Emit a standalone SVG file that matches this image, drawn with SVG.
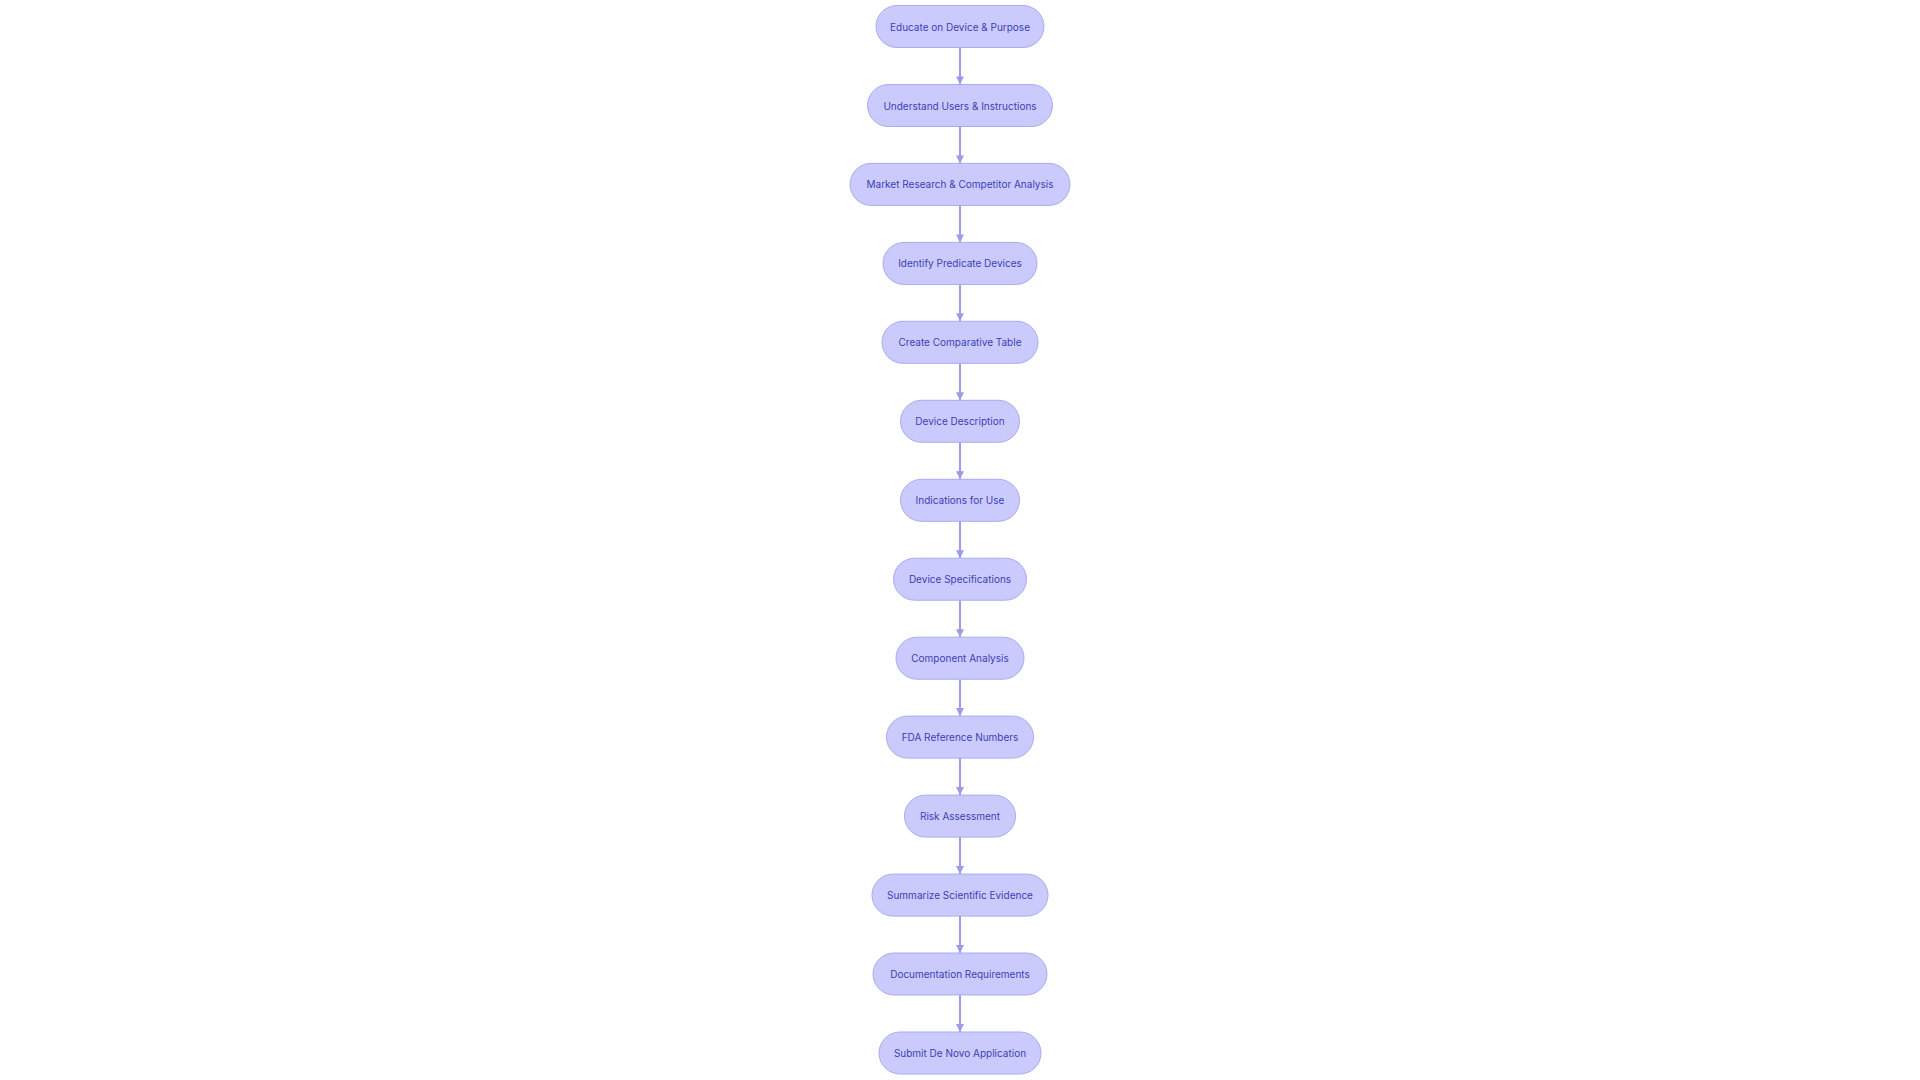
<svg xmlns="http://www.w3.org/2000/svg" width="1920" height="1080" viewBox="0 0 1920 1080">
<style>
.node rect{fill:#CACBFC;stroke:#A9ABF0;stroke-width:1}
.node text{font-family:Inter,"Open Sans","Liberation Sans",sans-serif;font-size:10px;fill:#3D3DB5;text-anchor:middle;dominant-baseline:central}
.edge{stroke:#9C9DE6;stroke-width:2;fill:none;marker-end:url(#arr)}
</style>
<defs>
<marker id="arr" viewBox="0 0 10 10" refX="10" refY="5" markerWidth="4.5" markerHeight="4" orient="auto" markerUnits="strokeWidth">
<path d="M0,0 L10,5 L0,10 z" fill="#9C9DE6"/>
</marker>
</defs>
<rect width="1920" height="1080" fill="#FFFFFF"/>
<g id="connectors">
<path class="edge" d="M960,47.5 L960,84.5"/>
<path class="edge" d="M960,126.5 L960,163.4"/>
<path class="edge" d="M960,205.4 L960,242.4"/>
<path class="edge" d="M960,284.4 L960,321.3"/>
<path class="edge" d="M960,363.3 L960,400.3"/>
<path class="edge" d="M960,442.3 L960,479.3"/>
<path class="edge" d="M960,521.3 L960,558.2"/>
<path class="edge" d="M960,600.2 L960,637.2"/>
<path class="edge" d="M960,679.2 L960,716.1"/>
<path class="edge" d="M960,758.1 L960,795.1"/>
<path class="edge" d="M960,837.1 L960,874.1"/>
<path class="edge" d="M960,916.1 L960,953"/>
<path class="edge" d="M960,995 L960,1032"/>
</g>
<g id="n1" class="node"><rect x="876" y="5.5" width="168" height="42" rx="21"/><text x="960" y="26.5">Educate on Device &amp; Purpose</text></g>
<g id="n2" class="node"><rect x="867.5" y="84.5" width="185" height="42" rx="21"/><text x="960" y="105.5">Understand Users &amp; Instructions</text></g>
<g id="n3" class="node"><rect x="850" y="163.4" width="220" height="42" rx="21"/><text x="960" y="184.4">Market Research &amp; Competitor Analysis</text></g>
<g id="n4" class="node"><rect x="883" y="242.4" width="154" height="42" rx="21"/><text x="960" y="263.4">Identify Predicate Devices</text></g>
<g id="n5" class="node"><rect x="882" y="321.3" width="156" height="42" rx="21"/><text x="960" y="342.3">Create Comparative Table</text></g>
<g id="n6" class="node"><rect x="900.5" y="400.3" width="119" height="42" rx="21"/><text x="960" y="421.3">Device Description</text></g>
<g id="n7" class="node"><rect x="900.5" y="479.3" width="119" height="42" rx="21"/><text x="960" y="500.3">Indications for Use</text></g>
<g id="n8" class="node"><rect x="893.5" y="558.2" width="133" height="42" rx="21"/><text x="960" y="579.2">Device Specifications</text></g>
<g id="n9" class="node"><rect x="896" y="637.2" width="128" height="42" rx="21"/><text x="960" y="658.2">Component Analysis</text></g>
<g id="n10" class="node"><rect x="886.5" y="716.1" width="147" height="42" rx="21"/><text x="960" y="737.1">FDA Reference Numbers</text></g>
<g id="n11" class="node"><rect x="904.5" y="795.1" width="111" height="42" rx="21"/><text x="960" y="816.1">Risk Assessment</text></g>
<g id="n12" class="node"><rect x="872" y="874.1" width="176" height="42" rx="21"/><text x="960" y="895.1">Summarize Scientific Evidence</text></g>
<g id="n13" class="node"><rect x="873" y="953" width="174" height="42" rx="21"/><text x="960" y="974">Documentation Requirements</text></g>
<g id="n14" class="node"><rect x="879" y="1032" width="162" height="42" rx="21"/><text x="960" y="1053">Submit De Novo Application</text></g>
</svg>
